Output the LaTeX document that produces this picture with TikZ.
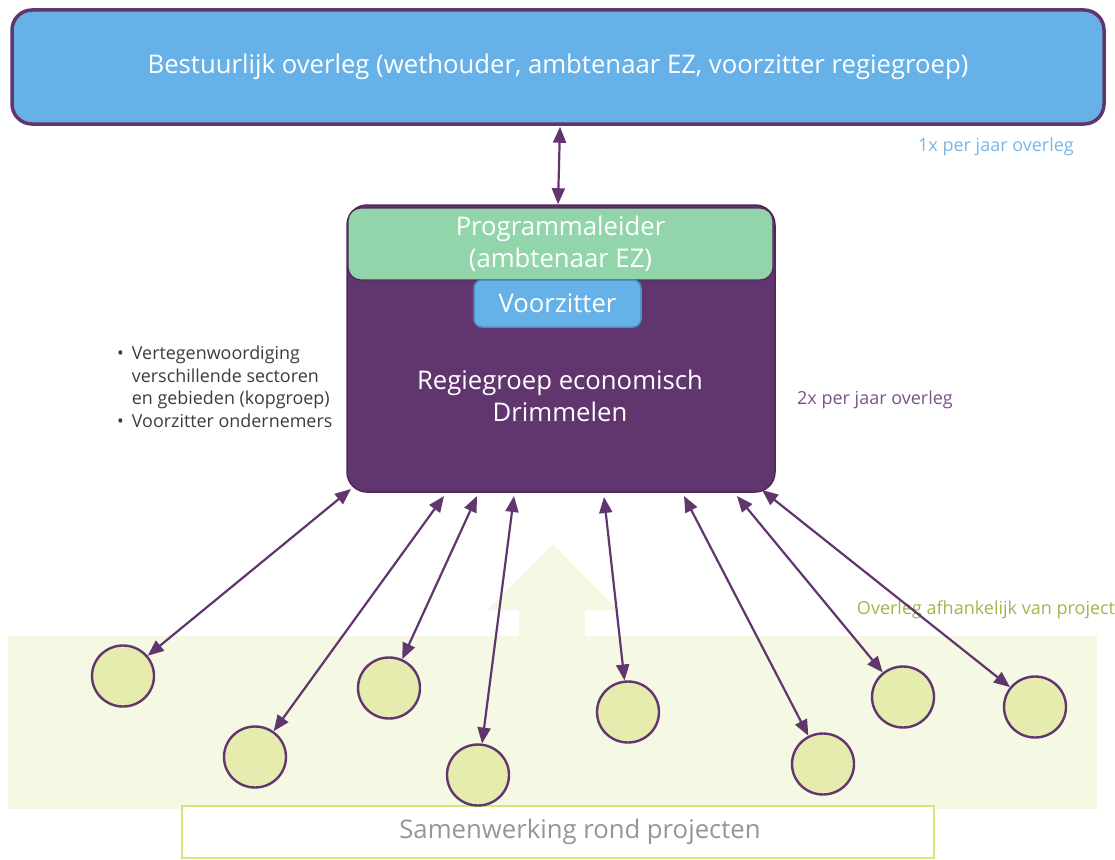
\documentclass[tikz,border=0pt]{standalone}
\usepackage{fontspec}
\setmainfont{Open Sans}
\usetikzlibrary{arrows.meta,shapes.geometric}
\definecolor{P1}{RGB}{97,54,110}
\definecolor{P2}{RGB}{78,40,90}
\definecolor{B1}{RGB}{102,177,232}
\definecolor{B2}{RGB}{72,142,204}
\definecolor{B3}{RGB}{120,182,232}
\definecolor{G1}{RGB}{147,213,171}
\definecolor{Y1}{RGB}{245,248,227}
\definecolor{Y2}{RGB}{229,236,173}
\definecolor{Y3}{RGB}{214,228,122}
\definecolor{O1}{RGB}{164,180,75}
\definecolor{T1}{RGB}{60,60,60}
\definecolor{T2}{RGB}{150,150,150}

\begin{document}
\begin{tikzpicture}[x=1pt,y=-1pt,
    link/.style={P1, line width=2.2pt,
      {Triangle[length=16pt,width=13pt]}-{Triangle[length=16pt,width=13pt]}},
    project/.style={ellipse, draw=P1, line width=2.4pt, fill=Y2,
      minimum width=62pt, minimum height=61pt, inner sep=0pt},
    big/.style={font=\fontsize{25.7}{32}\selectfont},
    small/.style={font=\fontsize{18}{22}\selectfont}]
  \useasboundingbox (0,0) rectangle (1115,859);

  % band met projecten
  \fill[Y1] (8,636) rectangle (1097,809);
  \fill[Y1] (519,636) -- (519,610) -- (487,610) -- (553,544) -- (618,610)
            -- (585,610) -- (585,636) -- cycle;
  \node[draw=Y3, line width=2pt, fill=white, minimum width=752pt,
        minimum height=52pt] (samen) at (558,832) {};
  \node[big, text=T2] (samentxt) at (580,832) {Samenwerking rond projecten};
  \node[small, text=O1] (afh) at (986,610) {Overleg afhankelijk van project};

  % bestuurlijk
  \node[draw=P1, line width=3.5pt, fill=B1, rounded corners=20pt,
        minimum width=1092pt, minimum height=114pt, text=white, big]
        (top) at (558,67) {Bestuurlijk overleg (wethouder, ambtenaar EZ, voorzitter regiegroep)};
  \node[small, text=B3] (jaar1) at (996,147) {1x per jaar overleg};

  % regiegroep
  \node[draw=P2, line width=1.5pt, fill=P1, rounded corners=20pt,
        minimum width=428pt, minimum height=287pt] (regie) at (561,348.5) {};
  \node[draw=P2, line width=1.2pt, fill=G1, rounded corners=13pt,
        minimum width=425pt, minimum height=72pt, text=white, big, align=center]
        (prog) at (560.5,244) {Programmaleider\\(ambtenaar EZ)};
  \node[draw=B2, line width=1.5pt, fill=B1, rounded corners=8pt,
        minimum width=167pt, minimum height=47pt, text=white, big]
        (voorz) at (557.5,303.5) {Voorzitter};
  \node[big, text=white, align=center] (regietxt) at (560,396)
        {Regiegroep economisch\\Drimmelen};
  \node[small, text=P1!85] (jaar2) at (875,400) {2x per jaar overleg};
  \node[anchor=west, inner sep=0pt, text=T1, font=\fontsize{17.9}{22.5}\selectfont]
        (leden) at (117,389)
        {\begin{tabular}{@{}l@{\hspace{8pt}}l@{}}
         \textbullet & Vertegenwoordiging\\
                     & verschillende sectoren\\
                     & en gebieden (kopgroep)\\
         \textbullet & Voorzitter ondernemers
         \end{tabular}};

  \draw[link] ([xshift=2pt,yshift=-1pt]top.south) -- ([xshift=-3pt]regie.north);

  % projecten
  \node[project] (p1) at (123,676) {};
  \node[project] (p2) at (255,757) {};
  \node[project] (p3) at (389,688) {};
  \node[project] (p4) at (478,775) {};
  \node[project] (p5) at (628,712) {};
  \node[project] (p6) at (823,764) {};
  \node[project] (p7) at (903,697) {};
  \node[project] (p8) at (1035,707) {};

  \coordinate (r1) at (351,489);
  \coordinate (r2) at (444,496);
  \coordinate (r3) at (477,496);
  \coordinate (r4) at (514,496);
  \coordinate (r5) at (604,497);
  \coordinate (r6) at (684,496);
  \coordinate (r7) at (737,496);
  \coordinate (r8) at (762,490);

  \draw[link] (p1) -- (r1);
  \draw[link] (p2) -- (r2);
  \draw[link] (p3) -- (r3);
  \draw[link] (p4) -- (r4);
  \draw[link] (p5) -- (r5);
  \draw[link] (p6) -- (r6);
  \draw[link] (p7) -- (r7);
  \draw[link] (p8) -- (r8);
\end{tikzpicture}
\end{document}
